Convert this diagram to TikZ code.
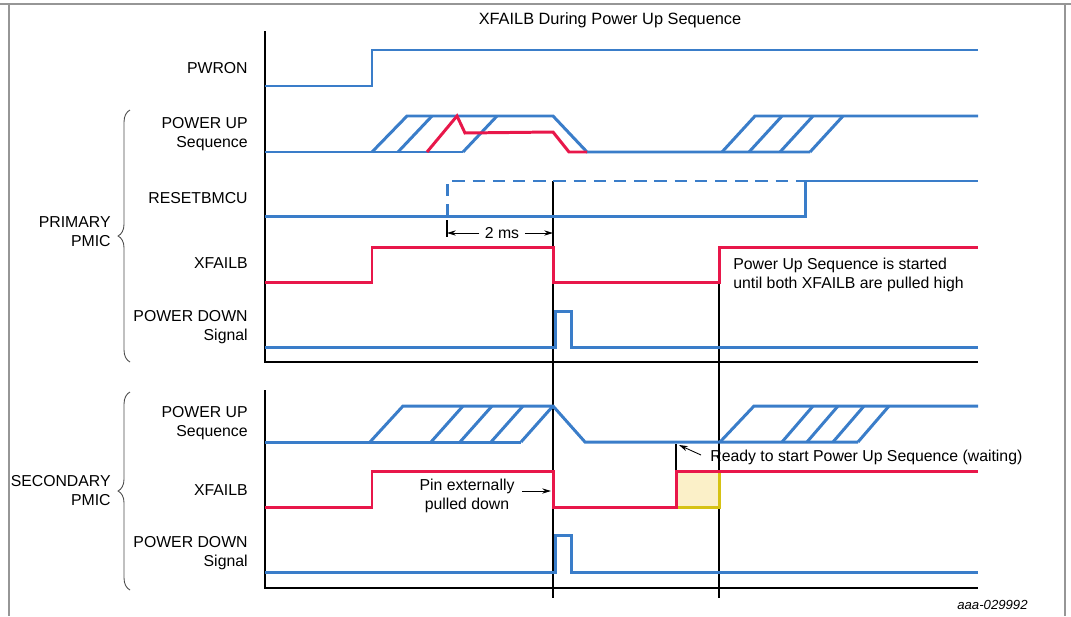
\documentclass[tikz,border=0pt]{standalone}
\usepackage{fontspec}
\setmainfont{Liberation Sans}
\usetikzlibrary{arrows.meta,decorations.pathreplacing,positioning}
\definecolor{sigblue}{RGB}{58,125,201}
\definecolor{sigred}{RGB}{232,23,74}
\definecolor{waitfill}{RGB}{251,240,200}
\definecolor{waitedge}{RGB}{214,194,20}
\definecolor{framegray}{RGB}{150,150,150}

\begin{document}
\begin{tikzpicture}[x=0.02cm,y=-0.02cm,
  lbl/.style={font=\fontsize{9}{10.8}\selectfont,align=right,anchor=east,inner sep=0pt},
  note/.style={font=\fontsize{9}{10.8}\selectfont,align=left,anchor=west,inner sep=0pt},
  wave/.style={draw=sigblue,line width=1.7pt},
  redwave/.style={draw=sigred,line width=1.7pt},
  axis/.style={draw=black,line width=0.6pt},
  marker/.style={draw=black,line width=0.6pt},
  grp/.style={decorate,decoration={brace,amplitude=6.8pt},draw=black!70,line width=0.5pt},
  dim/.style={-{Stealth[length=5pt,width=3pt]},line width=0.5pt},
]
\useasboundingbox (0,0) rectangle (1071,616);
% frame
\draw[framegray,line width=1.2pt] (0,4) -- (1071,4);
\draw[framegray,line width=1pt] (9,4) -- (9,616);
\draw[framegray,line width=1pt] (1065,4) -- (1065,616);
\node[font=\fontsize{9.3}{11}\selectfont] (title) at (610,20) {XFAILB During Power Up Sequence};
% axes
\draw[axis] (265,31) -- (265,362) -- (978,362);
\draw[axis] (265,390) -- (265,588) -- (978,588);
% time markers
\draw[marker] (553,181) -- (553,598);
\draw[marker] (719,282) -- (719,598);
\draw[marker] (676,444) -- (676,471);
% signal names
\node[lbl] (pwron) at (248,68) {PWRON};
\node[lbl] (pupA) at (248,134) {POWER UP\\Sequence};
\node[lbl] (rstA) at (248,198) {RESETBMCU};
\node[lbl] (xfA) at (248,263) {XFAILB};
\node[lbl] (pdnA) at (248,327) {POWER DOWN\\Signal};
\node[lbl] (pupB) at (248,423) {POWER UP\\Sequence};
\node[lbl] (xfB) at (248,490) {XFAILB};
\node[lbl] (pdnB) at (248,553) {POWER DOWN\\Signal};
% groups
\node[lbl] (prim) at (111,232) {PRIMARY\\PMIC};
\node[lbl] (sec) at (111,491) {SECONDARY\\PMIC};
\draw[grp] (130,362) -- (130,110);
\draw[grp] (130,590) -- (130,392);
% PWRON
\draw[wave] (265,86) -- (372,86) -- (372,50) -- (978,50);
% primary power up sequence
\draw[wave] (265,152) -- (463,152);
\draw[wave] (372,152) -- (407,116) -- (553,116) -- (587,152) -- (810,152);
\foreach \x in {398,463}
  \draw[wave] (\x,152) -- ++(34,-36);
\draw[redwave] (427,152) -- (457,116) -- (465,133) -- (553,132) -- (569,152) -- (587,152);
\draw[wave] (722,152) -- (755,116) -- (978,116);
\foreach \x in {749,780,810}
  \draw[wave] (\x,152) -- ++(33,-36);
% RESETBMCU
\draw[wave] (265,216) -- (805,216) -- (805,181) -- (978,181);
\draw[wave,dash pattern=on 7pt off 4.5pt] (447,216) -- (447,181) -- (805,181);
\draw[marker] (447,220) -- (447,237);
\node[font=\fontsize{9}{10.8}\selectfont,inner sep=3pt] (ms) at (502,233) {2 ms};
\coordinate (msL) at (447,233);
\coordinate (msR) at (553,233);
\draw[dim] (ms) -- (msL);
\draw[dim] (ms) -- (msR);
% primary XFAILB
\draw[redwave] (265,282) -- (372,282) -- (372,247) -- (553,247) -- (553,282) -- (719,282) -- (719,247) -- (978,247);
\node[note] (startnote) at (733,275) {Power Up Sequence is started\\until both XFAILB are pulled high};
% primary power down
\draw[wave] (265,347) -- (555,347) -- (555,311) -- (571,311) -- (571,347) -- (978,347);
% secondary power up sequence
\draw[wave] (265,442) -- (521,442);
\draw[wave] (370,442) -- (403,406) -- (553,406) -- (585,442) -- (858,442);
\foreach \x in {431,460,491,521}
  \draw[wave] (\x,442) -- ++(32,-36);
\draw[wave] (720,442) -- (754,406) -- (978,406);
\foreach \x in {782,807,833,858}
  \draw[wave] (\x,442) -- ++(31,-36);
\node[note] (ready) at (710,457) {Ready to start Power Up Sequence (waiting)};
\coordinate (readytail) at (701,455);
\coordinate (readytip) at (679,445);
\draw[dim] (readytail) -- (readytip);
% secondary XFAILB
\fill[waitfill] (676,471) rectangle (719,507);
\draw[waitedge,line width=1.7pt] (676,507) -- (719,507) -- (719,471);
\draw[redwave] (265,507) -- (372,507) -- (372,471) -- (553,471) -- (553,507) -- (676,507) -- (676,471) -- (978,471);
\node[font=\fontsize{9}{10.8}\selectfont,align=center,inner sep=0pt] (pin) at (467,496) {Pin externally\\pulled down};
\coordinate (pinfrom) at (522,491);
\coordinate (pinto) at (551,491);
\draw[dim] (pinfrom) -- (pinto);
% secondary power down
\draw[wave] (265,572) -- (555,572) -- (555,535) -- (571,535) -- (571,572) -- (978,572);
\node[font=\fontsize{7.5}{9}\selectfont\itshape,anchor=east,inner sep=0pt] (fig) at (1028,605) {aaa-029992};
\end{tikzpicture}
\end{document}
